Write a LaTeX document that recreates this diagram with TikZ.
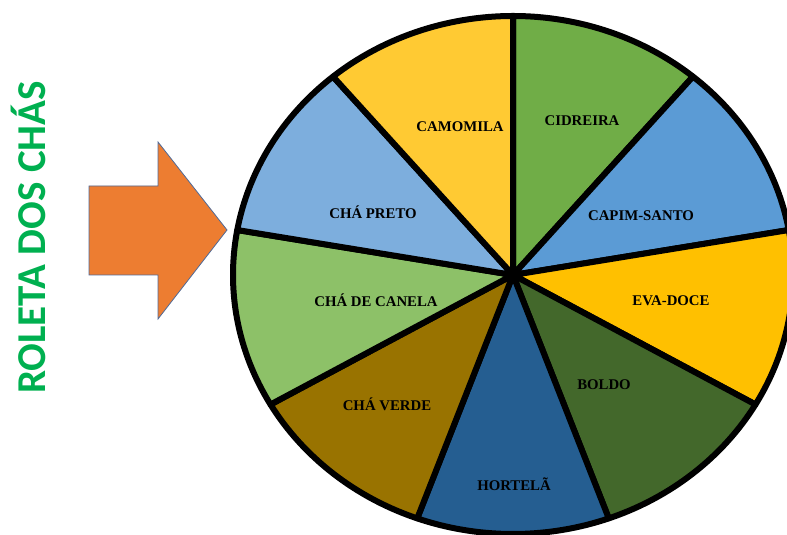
\documentclass[tikz,border=0pt]{standalone}
\usepackage{fontspec}
\setmainfont{Liberation Serif}
\newfontfamily\titlefont{Carlito}

\definecolor{cCidreira}{HTML}{70AD47}
\definecolor{cCapim}{HTML}{5B9BD5}
\definecolor{cEva}{HTML}{FFC000}
\definecolor{cBoldo}{HTML}{43682B}
\definecolor{cHortela}{HTML}{255E91}
\definecolor{cVerde}{HTML}{997300}
\definecolor{cCanela}{HTML}{8DC168}
\definecolor{cPreto}{HTML}{7DAEDD}
\definecolor{cCamomila}{HTML}{FFCA33}
\definecolor{cSeta}{HTML}{ED7D31}
\definecolor{cSetaBorda}{HTML}{4F6A98}
\definecolor{cTitulo}{HTML}{00B050}

\begin{document}
\begin{tikzpicture}[x=1pt, y=1pt,
    slice/.style={draw=black, line width=6pt, line join=round},
    tea/.style={font=\bfseries\fontsize{14.8}{16}\selectfont, inner sep=0pt},
    pointer/.style={fill=cSeta, draw=cSetaBorda, line width=0.8pt},
    titlelabel/.style={font=\titlefont\bfseries\fontsize{41}{44}\selectfont, text=cTitulo, inner sep=0pt}]
    \useasboundingbox (0,0) rectangle (787,535);
    \clip (0,0) rectangle (787,535);

    \coordinate (hub) at (513,260);

    % roleta: nove fatias de 40 graus
    \foreach \start/\colour in {90/cCidreira, 50/cCapim, 10/cEva, -30/cBoldo, -70/cHortela,
        -110/cVerde, -150/cCanela, -190/cPreto, -230/cCamomila}
        \filldraw [slice, fill=\colour] (hub) -- ++(\start:280 and 259)
            arc [start angle=\start, end angle=\start-40, x radius=280, y radius=259] -- cycle;

    \node [tea] (cidreira) at (582,414) {CIDREIRA};
    \node [tea] (capim) at (641,319) {CAPIM-SANTO};
    \node [tea] (eva) at (671,234) {EVA-DOCE};
    \node [tea] (boldo) at (604,150) {BOLDO};
    \node [tea] (hortela) at (514,51) {HORTELÃ};
    \node [tea] (verde) at (387,131) {CHÁ VERDE};
    \node [tea] (canela) at (376,235) {CHÁ DE CANELA};
    \node [tea] (preto) at (373,323) {CHÁ PRETO};
    \node [tea] (camomila) at (460,408) {CAMOMILA};

    % seta e titulo
    \filldraw [pointer] (89,260) -- (158,260) -- (158,216) -- (227,305)
        -- (158,393) -- (158,349) -- (89,349) -- cycle;
    \node [titlelabel, rotate=90, anchor=base] (titulo) at (45,297.5) {ROLETA DOS CHÁS};
\end{tikzpicture}
\end{document}
